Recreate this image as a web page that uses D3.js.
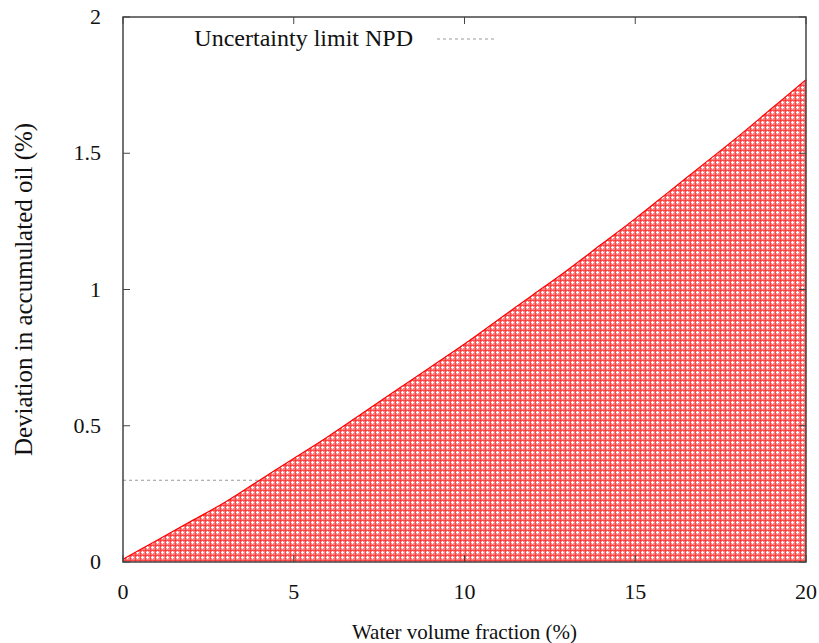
<!DOCTYPE html>
<html>
<head>
    <script src="https://cdn.jsdelivr.net/npm/d3@7"></script>
    <style>
        body { margin: 0; background: white; }
        text { font-family: "Liberation Serif", "DejaVu Serif", serif; fill: #111; }
    </style>
</head>
<body>
<svg id="visSvg"></svg>
<script>
    // values
    let waterFraction = [0, 1, 2, 3, 4, 5, 6, 7, 8, 9, 10, 11, 12, 13, 14, 15, 16, 17, 18, 19, 20];
    let deviation = [0.01, 0.08, 0.15, 0.22, 0.30, 0.38, 0.46, 0.545, 0.63, 0.715, 0.80,
                     0.89, 0.98, 1.07, 1.165, 1.26, 1.36, 1.46, 1.56, 1.665, 1.77];
    let xTicks = [0, 5, 10, 15, 20];
    let yTicks = [0, 0.5, 1, 1.5, 2];
    let npdLimit = 0.3;
    let legendLabel = "Uncertainty limit NPD";

    let width = 819, height = 643;
    let margin = { top: 17, right: 13, bottom: 81, left: 123 };

    let svg = d3.select("#visSvg")
        .attr("width", width)
        .attr("height", height);

    let x = d3.scaleLinear().domain([0, 20]).range([margin.left, width - margin.right]);
    let y = d3.scaleLinear().domain([0, 2]).range([height - margin.bottom, margin.top]);

    // crosshatch fill: red grid with white crosses
    let pat = svg.append("defs").append("pattern")
        .attr("id", "hatch")
        .attr("patternUnits", "userSpaceOnUse")
        .attr("width", 5).attr("height", 5);
    pat.append("rect").attr("width", 5).attr("height", 5).attr("fill", "#ff8080");
    pat.append("rect").attr("x", 2).attr("y", 1).attr("width", 1).attr("height", 3).attr("fill", "#ffffff");
    pat.append("rect").attr("x", 1).attr("y", 2).attr("width", 3).attr("height", 1).attr("fill", "#ffffff");
    pat.append("rect").attr("x", 0).attr("y", 0).attr("width", 5).attr("height", 0.6).attr("fill", "#ff2020");
    pat.append("rect").attr("x", 0).attr("y", 0).attr("width", 0.6).attr("height", 5).attr("fill", "#ff2020");

    let data = waterFraction.map((w, i) => ({ w: w, d: deviation[i] }));

    // uncertainty limit line
    svg.append("line")
        .attr("x1", x(0)).attr("x2", x(20))
        .attr("y1", y(npdLimit)).attr("y2", y(npdLimit))
        .attr("stroke", "#999").attr("stroke-width", 1)
        .attr("stroke-dasharray", "3,3");

    let area = d3.area()
        .x(d => x(d.w))
        .y0(y(0))
        .y1(d => y(d.d))
        .curve(d3.curveMonotoneX);

    svg.append("path")
        .datum(data)
        .attr("d", area)
        .attr("fill", "url(#hatch)");

    svg.append("path")
        .datum(data)
        .attr("d", d3.line().x(d => x(d.w)).y(d => y(d.d)).curve(d3.curveMonotoneX))
        .attr("fill", "none")
        .attr("stroke", "#ff0000")
        .attr("stroke-width", 1.2);

    // axes with mirrored ticks
    let tickLen = 7;
    let axisColor = "#444";
    let g = svg.append("g").attr("stroke", axisColor).attr("stroke-width", 1);
    xTicks.forEach(t => {
        g.append("line").attr("x1", x(t)).attr("x2", x(t))
            .attr("y1", y(0)).attr("y2", y(0) - tickLen);
        g.append("line").attr("x1", x(t)).attr("x2", x(t))
            .attr("y1", y(2)).attr("y2", y(2) + tickLen);
    });
    yTicks.forEach(t => {
        g.append("line").attr("x1", x(0)).attr("x2", x(0) + tickLen)
            .attr("y1", y(t)).attr("y2", y(t));
        g.append("line").attr("x1", x(20)).attr("x2", x(20) - tickLen)
            .attr("y1", y(t)).attr("y2", y(t));
    });

    svg.append("rect")
        .attr("x", x(0)).attr("y", y(2))
        .attr("width", x(20) - x(0)).attr("height", y(0) - y(2))
        .attr("fill", "none")
        .attr("stroke", axisColor)
        .attr("stroke-width", 1.5);

    svg.append("g").selectAll("text")
        .data(xTicks).enter().append("text")
        .attr("x", d => x(d))
        .attr("y", y(0) + 37)
        .attr("text-anchor", "middle")
        .attr("font-size", 22)
        .text(d => d);

    svg.append("g").selectAll("text")
        .data(yTicks).enter().append("text")
        .attr("x", x(0) - 22)
        .attr("y", d => y(d) + 7)
        .attr("text-anchor", "end")
        .attr("font-size", 22)
        .text(d => d);

    svg.append("text")
        .attr("x", (x(0) + x(20)) / 2)
        .attr("y", 639)
        .attr("text-anchor", "middle")
        .attr("font-size", 21)
        .text("Water volume fraction (%)");

    svg.append("text")
        .attr("transform", `translate(32,${(y(0) + y(2)) / 2}) rotate(-90)`)
        .attr("text-anchor", "middle")
        .attr("font-size", 25)
        .text("Deviation in accumulated oil (%)");

    // legend
    svg.append("text")
        .attr("x", 413)
        .attr("y", 46)
        .attr("text-anchor", "end")
        .attr("font-size", 24)
        .text(legendLabel);
    svg.append("line")
        .attr("x1", 437).attr("x2", 496)
        .attr("y1", 39).attr("y2", 39)
        .attr("stroke", "#999").attr("stroke-width", 1)
        .attr("stroke-dasharray", "3,3");
</script>
</body>
</html>
